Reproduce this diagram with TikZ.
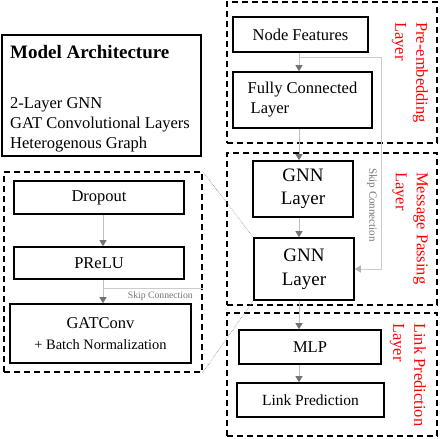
\documentclass[tikz,border=0pt]{standalone}
\usepackage{fontspec}
\setmainfont{Liberation Serif}
\usetikzlibrary{arrows.meta}

\begin{document}
\begin{tikzpicture}[x=1pt,y=-1pt,
        blk/.style={draw,line width=1.6pt,inner sep=0pt,align=center,font=\fontsize{16.5}{20}\selectfont},
        grp/.style={draw,line width=1.3pt,dash pattern=on 6pt off 4pt,inner sep=0pt},
        flow/.style={draw=black!25,line width=1pt,-{Triangle[length=6pt,width=7pt,color=black!55]}},
        skipline/.style={draw=black!20,line width=1pt},
        zoomline/.style={draw=black!45,densely dotted,line width=0.6pt},
        layertag/.style={text=red,rotate=-90,align=left,anchor=north west,inner sep=0pt,font=\fontsize{16.5}{21}\selectfont},
        skiptext/.style={text=black!55,inner sep=0pt}]
        \useasboundingbox (0,0) rectangle (440,439);
        % summary box
        \node[draw,line width=1.6pt,minimum width=199pt,minimum height=121pt] (arch) at (101.5,95.5) {};
        \node[anchor=base west,inner sep=0pt,font=\fontsize{19}{22}\selectfont\bfseries] (archtitle) at (10,58) {Model Architecture};
        \node[anchor=base west,inner sep=0pt,font=\fontsize{16.5}{20}\selectfont] (archone) at (10,108.5) {2-Layer GNN};
        \node[anchor=base west,inner sep=0pt,font=\fontsize{16.5}{20}\selectfont] (archtwo) at (10,128.5) {GAT Convolutional Layers};
        \node[anchor=base west,inner sep=0pt,font=\fontsize{16.5}{20}\selectfont] (archthree) at (10,148.5) {Heterogenous Graph};
        % dashed stages
        \node[grp,minimum width=210pt,minimum height=141pt] (preemb) at (332,72.5) {};
        \node[grp,minimum width=210pt,minimum height=152pt] (mpass) at (332,229) {};
        \node[grp,minimum width=210pt,minimum height=123pt] (linkp) at (332,374.5) {};
        \node[grp,minimum width=198pt,minimum height=200pt] (detail) at (103,272) {};
        \node[layertag] (pretag) at (428,22) {Pre-embedding\\Layer};
        \node[layertag] (mptag) at (428,172) {Message Passing\\Layer};
        \node[layertag] (lptag) at (426,323) {Link Prediction\\Layer};
        % main column
        \node[blk,minimum width=135pt,minimum height=35pt] (feat) at (300.5,34.5) {Node Features};
        \node[blk,minimum width=139pt,minimum height=56pt,align=left] (fc) at (302.5,100) {Fully Connected\\\hspace{3pt}Layer};
        \node[blk,minimum width=100pt,minimum height=56pt,font=\fontsize{19}{23}\selectfont] (gnnA) at (303,189) {GNN\\Layer};
        \node[blk,minimum width=100pt,minimum height=62pt,font=\fontsize{19}{24}\selectfont] (gnnB) at (304,269) {GNN\\Layer};
        \node[blk,minimum width=142pt,minimum height=34pt] (mlp) at (310,347) {MLP};
        \node[blk,minimum width=147pt,minimum height=34pt,font=\fontsize{15.5}{19}\selectfont] (pred) at (310.5,400) {Link Prediction};
        % layer detail
        \node[blk,minimum width=170pt,minimum height=33pt] (drop) at (99,197.5) {Dropout};
        \node[blk,minimum width=170pt,minimum height=32pt] (prelu) at (99,263) {PReLU};
        \node[blk,minimum width=181pt,minimum height=59pt] (gat) at (100.5,333.5) {GATConv\\[1pt]{\fontsize{14.4}{17}\selectfont + Batch Normalization}};
        % arrows
        \coordinate (spine) at (299,0);
        \coordinate (lspine) at (103,0);
        \draw[flow] (feat.south -| spine) -- (fc.north -| spine);
        \draw[flow] (fc.south -| spine) -- (gnnA.north -| spine);
        \draw[flow] (gnnA.south -| spine) -- (gnnB.north -| spine);
        \draw[flow] (gnnB.south -| spine) -- (mlp.north -| spine);
        \draw[flow] (mlp.south -| spine) -- (pred.north -| spine);
        \draw[flow] (drop.south -| lspine) -- (prelu.north -| lspine);
        \draw[flow] (prelu.south -| lspine) -- (gat.north -| lspine);
        % skip connections
        \coordinate (skiptap) at (299,57);
        \coordinate (skiprail) at (381,0);
        \draw[skipline,-{Triangle[length=6pt,width=7pt,color=black!30]}] (skiptap) -| (skiprail |- gnnB.east) -- (gnnB.east);
        \node[skiptext,rotate=-90,font=\fontsize{11}{13}\selectfont] (skipA) at (372,205) {Skip Connection};
        \coordinate (lskiptap) at (103,288);
        \draw[skipline] (lskiptap) -- (lskiptap -| detail.east);
        \node[skiptext,anchor=east,font=\fontsize{9.7}{12}\selectfont] (skipB) at (193,296) {Skip Connection};
        % zoom
        \draw[zoomline] (detail.north east) -- (gnnB.north west);
        \draw[zoomline] (detail.south east) -- (gnnB.south west);
    \end{tikzpicture}
\end{document}
